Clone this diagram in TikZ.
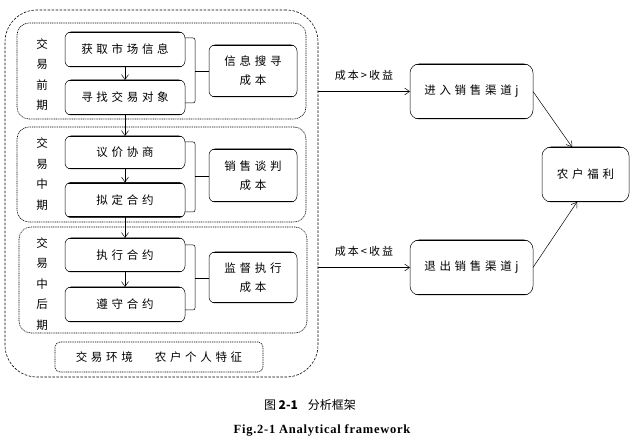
\documentclass[tikz,border=0pt]{standalone}
\usepackage{fontspec}
\newfontfamily\cjk[LetterSpace=32]{Noto Sans CJK SC}
\newfontfamily\cjkplain{Noto Sans CJK SC}
\newfontfamily\cjklab[LetterSpace=18]{Noto Sans CJK SC}
\newfontfamily\tnr[LetterSpace=6]{Liberation Serif}
\usetikzlibrary{arrows.meta}
\begin{document}
\begin{tikzpicture}[x=1pt,y=-1pt,
  every node/.style={inner sep=0pt, outer sep=0pt},
  tx/.style={font=\cjk\fontsize{11.5}{13}\selectfont},
  boxed/.style={draw, rounded corners=6pt, line width=0.5pt, tx, align=center,
    path picture={
      \draw[line width=2.6pt] (path picture bounding box.north west) -- (path picture bounding box.north east);
      \draw[line width=2.6pt] (path picture bounding box.south west) -- (path picture bounding box.south east);}},
  stagebox/.style={draw, rounded corners=12pt, dash pattern=on 1pt off 0.8pt, line width=0.6pt},
  outerbox/.style={draw, rounded corners=32pt, dash pattern=on 2.5pt off 1.5pt, line width=0.6pt},
  vlabel/.style={font=\cjkplain\fontsize{11.5}{20.5}\selectfont, align=center},
  arr/.style={-{Straight Barb[length=5pt,width=7pt]}, line width=0.5pt},
  brace/.style={line width=0.5pt, rounded corners=2pt},
  costtx/.style={font=\cjk\fontsize{11.5}{19}\selectfont},
  armlabel/.style={font=\cjklab\fontsize{11}{12}\selectfont}
]
\useasboundingbox (0,0) rectangle (637,443);

% outer and stage boxes
\node[outerbox, minimum width=313pt, minimum height=367pt] (outer) at (161.5,193.5) {};
\node[stagebox, minimum width=289pt, minimum height=96pt] (s1) at (161.5,71) {};
\node[stagebox, minimum width=289pt, minimum height=95pt] (s2) at (161.5,174.5) {};
\node[stagebox, minimum width=288pt, minimum height=106pt] (s3) at (163,280) {};
\node[stagebox, rounded corners=5pt, minimum width=208pt, minimum height=30pt, tx] (env) at (159,357) {交易环境\hspace{22pt}农户个人特征};

% stage labels
\node[vlabel] (l1) at (42,74.5) {交\\易\\前\\期};
\node[vlabel] (l2) at (42,174) {交\\易\\中\\期};
\node[vlabel] (l3) at (42,284) {交\\易\\中\\后\\期};

% step boxes
\node[boxed, minimum width=120pt, minimum height=35pt] (b1) at (125,49.5) {获取市场信息};
\node[boxed, minimum width=120pt, minimum height=35pt] (b2) at (125,97.5) {寻找交易对象};
\node[boxed, minimum width=120pt, minimum height=33pt] (b3) at (125,152.5) {议价协商};
\node[boxed, minimum width=120pt, minimum height=35pt] (b4) at (125,200) {拟定合约};
\node[boxed, minimum width=120pt, minimum height=34pt] (b5) at (125,255) {执行合约};
\node[boxed, minimum width=120pt, minimum height=35pt] (b6) at (125,304.5) {遵守合约};

% cost boxes
\node[boxed, minimum width=88pt, minimum height=52pt, costtx] (c1) at (253,71) {信息搜寻\\成本};
\node[boxed, minimum width=88pt, minimum height=53pt, costtx] (c2) at (253,175.5) {销售谈判\\成本};
\node[boxed, minimum width=88pt, minimum height=51pt, costtx] (c3) at (253,277.5) {监督执行\\成本};

% right side boxes
\node[boxed, rounded corners=9pt, minimum width=123pt, minimum height=55pt] (e1) at (471.5,91.5) {进入销售渠道j};
\node[boxed, rounded corners=9pt, minimum width=87pt, minimum height=55pt] (w) at (585.5,174.5) {农户福利};
\node[boxed, rounded corners=9pt, minimum width=123pt, minimum height=55pt] (e2) at (471.5,267.5) {退出销售渠道j};

% vertical arrows
\draw[arr] (b1.south) -- (b2.north);
\draw[arr] (b2.south) -- (b3.north);
\draw[arr] (b3.south) -- (b4.north);
\draw[arr] (b4.south) -- (b5.north);
\draw[arr] (b5.south) -- (b6.north);

% brackets
\draw[brace] (b1.east |- 0,38) -- (195,38) -- (195,103) -- (b2.east |- 0,103);
\draw[brace] (195,71) -- (c1.west);
\draw[brace] (b3.east |- 0,142) -- (195,142) -- (195,212) -- (b4.east |- 0,212);
\draw[brace] (195,176) -- (c2.west |- 0,176);
\draw[brace] (b5.east |- 0,245) -- (195,245) -- (195,310) -- (b6.east |- 0,310);
\draw[brace] (195,278) -- (c3.west |- 0,278);

% right arrows
\draw[arr] (outer.east |- e1.west) -- node[above=11pt, armlabel] (g1) {成本>收益} (e1.west);
\draw[arr] (outer.east |- e2.west) -- node[above=11pt, armlabel] (g2) {成本<收益} (e2.west);
\draw[arr] (e1.east) -- (w.north -| 572,0);
\draw[arr] (e2.east) -- (w.south -| 577,0);

% caption
\node[font=\cjkplain\fontsize{12}{14}\selectfont] (cap1) at (310,405) {图 \textbf{2-1}\hspace{10pt}分析框架};
\node[font=\tnr\bfseries\fontsize{12.5}{14}\selectfont] (cap2) at (322,430) {Fig.2-1 Analytical framework};
\end{tikzpicture}
\end{document}
